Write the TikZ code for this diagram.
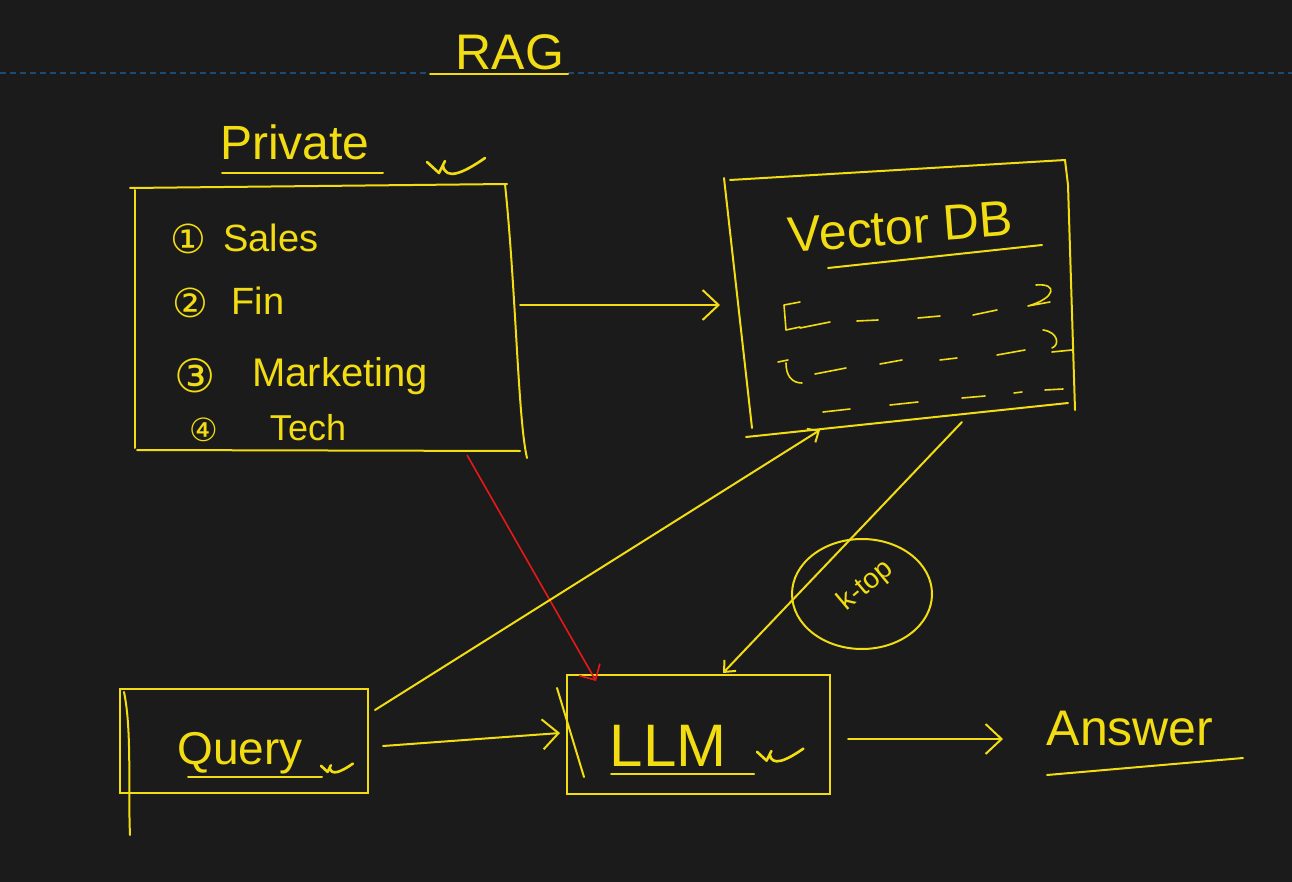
\documentclass[tikz,border=0pt]{standalone}
\usepackage{fontspec}
\setmainfont{Liberation Sans}
\newfontfamily\symf{DejaVu Sans}
\usetikzlibrary{arrows.meta,shapes.geometric}
\definecolor{bgc}{HTML}{1B1B1B}
\definecolor{ink}{HTML}{F2DC12}
\definecolor{redink}{HTML}{E81818}
\definecolor{guide}{HTML}{1D4A72}
\tikzset{
  inkline/.style={draw=ink, line width=2pt, line cap=round, line join=round},
  thinink/.style={draw=ink, line width=1.6pt, line cap=round, line join=round},
  lbl/.style={text=ink, anchor=base, inner sep=0pt},
  chev/.style={-{Straight Barb[length=16pt,width=30pt,line width=2pt]}},
  smallchev/.style={-{Straight Barb[length=9pt,width=16pt,line width=2pt]}},
  tickmk/.pic={\draw[draw=ink, line width=2.6pt, line cap=round, line join=round] (0,-4) -- (12,7) -- (18,-5) (16,0) .. controls (19,14) and (35,8) .. (58,-8);},
}
\begin{document}
\begin{tikzpicture}[x=1pt,y=-1pt]
\fill[bgc] (0,0) rectangle (1292,882);
\useasboundingbox (0,0) rectangle (1292,882);
% guide line
\draw[guide, line width=1.3pt, dash pattern=on 6pt off 4pt] (0,73) -- (430,73);
\draw[guide, line width=1.3pt, dash pattern=on 6pt off 4pt] (568,73) -- (1292,73);
% title
\node[lbl, font=\fontsize{50}{50}\selectfont] (rag) at (510,70) {RAG};
\draw[inkline] (430,74) -- (568,74);
% Private
\node[lbl, font=\fontsize{48}{48}\selectfont] (pvt) at (295,160) {Private};
\draw[inkline] (222,173) -- (383,173);
\pic at (427,166) {tickmk};
% Private box
\coordinate (pA) at (130,188);
\coordinate (pB) at (507,184);
\coordinate (pC) at (527,458);
\coordinate (pD) at (137,450);
\draw[inkline] (pA) -- (pB);
\draw[inkline] (505,184) .. controls (516,290) and (518,420) .. (pC);
\draw[inkline] (pD) -- (520,451);
\draw[inkline] (135,190) -- (135,448);
\node[draw=none, minimum width=385pt, minimum height=264pt] (pbox) at (328,318) {};
% items
\node[lbl, font=\symf\fontsize{40}{40}\selectfont] (n1) at (188,254) {①};
\node[lbl, font=\fontsize{38}{38}\selectfont] (s1) at (271,252) {Sales};
\node[lbl, font=\symf\fontsize{40}{40}\selectfont] (n2) at (190,317) {②};
\node[lbl, font=\fontsize{38}{38}\selectfont] (s2) at (258,315) {Fin};
\node[lbl, font=\symf\fontsize{46}{46}\selectfont] (n3) at (195,392) {③};
\node[lbl, font=\fontsize{40}{40}\selectfont] (s3) at (340,386) {Marketing};
\node[lbl, font=\symf\fontsize{32}{32}\selectfont] (n4) at (204,441) {④};
\node[lbl, font=\fontsize{36}{36}\selectfont] (s4) at (308,440) {Tech};
% Vector DB box
\coordinate (vA) at (730,180);
\coordinate (vB) at (1065,160);
\coordinate (vC) at (1075,410);
\coordinate (vD) at (746,437);
\draw[inkline] (vA) -- (vB);
\draw[inkline] (vB) -- (1068,185) -- (vC);
\draw[inkline] (vD) -- (1068,403);
\draw[inkline] (724,178) -- (752,428);
\node[lbl, rotate=4.5, font=\fontsize{50}{50}\selectfont] (vdb) at (902,244) {Vector DB};
\draw[inkline] (828,268) -- (1042,245);
% rows
\draw[thinink] (800,302) -- (784,305) -- (786,330) -- (800,327);
\draw[thinink] (800,328) -- (830,322) (857,321) -- (878,320) (918,318) -- (940,316) (973,315) -- (997,310);
\draw[thinink] (1036,285) .. controls (1058,283) and (1056,298) .. (1028,306) -- (1050,302);
\draw[thinink] (778,362) -- (788,360) (786,363) .. controls (786,376) and (792,383) .. (802,383);
\draw[thinink] (815,374) -- (846,368) (880,364) -- (902,360) (940,360) -- (957,358) (997,355) -- (1025,350);
\draw[thinink] (1043,330) .. controls (1058,332) and (1060,345) .. (1052,348) (1052,352) -- (1072,350);
\draw[thinink] (823,412) -- (850,409) (890,405) -- (918,402) (962,398) -- (985,396) (1014,393) -- (1022,392) (1045,390) -- (1063,389);
\node[draw=none, minimum width=340pt, minimum height=260pt] (vbox) at (900,300) {};
% Query box
\node[draw=ink, line width=2pt, minimum width=248pt, minimum height=104pt, inner sep=0pt] (qbox) at (244,741) {};
\node[lbl, font=\fontsize{46}{46}\selectfont] (query) at (240,764) {Query};
\draw[inkline] (188,777) -- (322,777);
\pic[scale=0.55] at (321,768) {tickmk};
\draw[inkline] (124,692) .. controls (132,730) and (128,790) .. (130,835);
% LLM box
\node[draw=ink, line width=2pt, minimum width=263pt, minimum height=119pt, inner sep=0pt] (lbox) at (698.5,734.5) {};
\node[lbl, font=\fontsize{60}{60}\selectfont] (llm) at (668,766) {LLM};
\draw[inkline] (611,774) -- (754,774);
\pic[scale=0.8] at (757,755) {tickmk};
\draw[inkline] (557,688) -- (584,777);
% Answer
\node[lbl, font=\fontsize{50}{50}\selectfont] (ans) at (1130,745) {Answer};
\draw[inkline] (1047,775) -- (1243,758);
% k-top
\node[draw=ink, line width=2pt, ellipse, minimum width=140pt, minimum height=110pt] (ktopc) at (862,594) {};
\node[text=ink, rotate=40, font=\fontsize{28}{28}\selectfont, inner sep=0pt] (ktop) at (866,586) {k-top};
% connectors
\coordinate (pOut) at (520,305);
\coordinate (vIn) at (720,305);
\draw[inkline, chev] (pOut) -- (vIn);
\coordinate (pRed) at (467,455);
\coordinate (lRed) at (596,681);
\draw[draw=redink, line width=1.6pt, -{Straight Barb[length=12pt,width=24pt,line width=1.6pt]}] (pRed) -- (lRed);
\coordinate (qUp) at (375,710);
\coordinate (vLow) at (820,430);
\draw[inkline, smallchev] (qUp) -- (vLow);
\coordinate (vOut) at (962,422);
\coordinate (lTop) at (723,673);
\draw[inkline, smallchev] (vOut) -- (lTop);
\coordinate (qOut) at (383,746);
\coordinate (lIn) at (560,733);
\draw[inkline, chev] (qOut) -- (lIn);
\coordinate (lOut) at (848,739);
\coordinate (aIn) at (1003,739);
\draw[inkline, chev] (lOut) -- (aIn);
\end{tikzpicture}
\end{document}
